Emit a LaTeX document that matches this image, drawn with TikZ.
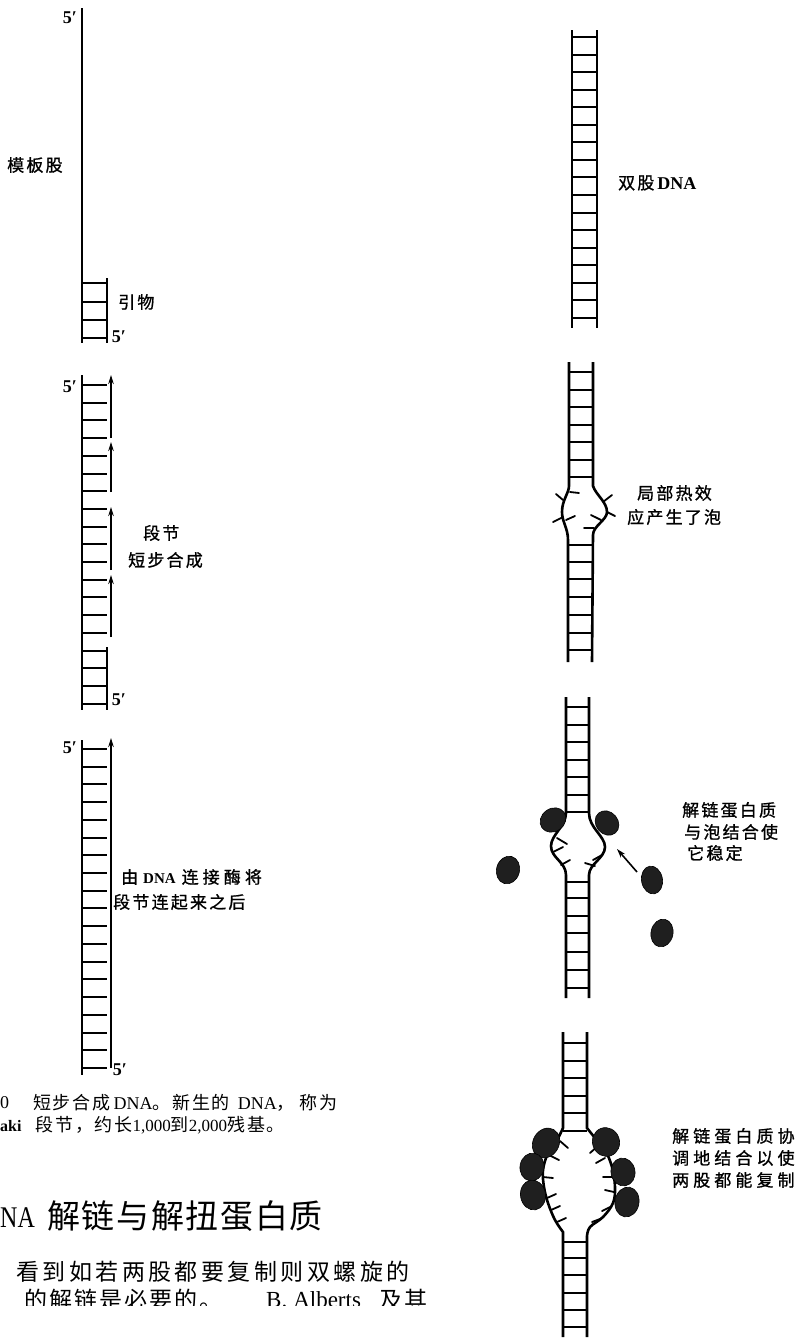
\documentclass[tikz,border=0pt]{standalone}
\usepackage{fontspec}
\setmainfont{Liberation Serif}
\newfontfamily\narrowserif[FakeStretch=0.8]{Liberation Serif}
\newfontfamily\zhlab[LetterSpace=13,FakeBold=1]{Noto Sans CJK SC}
\newfontfamily\zhwide[LetterSpace=24,FakeBold=1]{Noto Sans CJK SC}
\newfontfamily\zhcap[LetterSpace=10]{Noto Sans CJK SC}
\newfontfamily\zhhead[LetterSpace=5]{Noto Sans CJK SC}
\newfontfamily\zhbody[LetterSpace=15]{Noto Sans CJK SC}
\newfontfamily\zhbodyb[LetterSpace=9]{Noto Sans CJK SC}
\usetikzlibrary{arrows.meta,shapes.geometric}
\newcommand\setfs[1]{\fontsize{#1}{#1}\selectfont}
\begin{document}
\begin{tikzpicture}[x=1pt,y=-1pt,
  strand/.style={line width=2.6pt},
  rung/.style={line width=2pt},
  base/.style={line width=1.8pt, line cap=round},
  newstrand/.style={line width=1.6pt, -{Stealth[length=9pt,width=5.5pt]}},
  protein/.style={ellipse, fill=black!88, draw=black, line width=0.6pt, inner sep=0pt},
  lab/.style={inner sep=0pt, anchor=west, font=\zhlab\setfs{17}},
  labw/.style={inner sep=0pt, anchor=west, font=\zhwide\setfs{17}},
  captxt/.style={inner sep=0pt, anchor=west, font=\setfs{18}},
  bodytxt/.style={inner sep=0pt, anchor=west, font=\setfs{23}},
  prime/.style={inner sep=0pt, font=\bfseries\setfs{18}}]
\useasboundingbox (0,0) rectangle (801,1342);

% ---------- left column: template strand with primer ----------
\draw[strand] (82,8) -- (82,343);
\draw[strand] (107,278) -- (107,343);
\foreach \y in {283,302,320,338} \draw[rung] (82,\y) -- (107,\y);
\node[prime] (p1t) at (70,18) {5′};
\node[prime] (p1b) at (119,337) {5′};
\node[lab] (tmpl) at (7,165) {模板股};
\node[lab] (prim) at (118,302) {引物};

% ---------- discontinuous synthesis ----------
\draw[strand] (82,375) -- (82,710);
\foreach \k in {0,...,18} \draw[rung] (82,{385+17.7*\k}) -- (107,{385+17.7*\k});
\draw[newstrand] (111,438) -- (111,375);
\draw[newstrand] (111,492) -- (111,442);
\draw[newstrand] (111,570) -- (111,507);
\draw[newstrand] (111,637) -- (111,575);
\draw[strand] (107,647) -- (107,710);
\node[prime] (p2t) at (70,387) {5′};
\node[prime] (p2b) at (119,700) {5′};
\node[lab] (seg) at (143,533) {段节};
\node[lab] (short) at (128,560) {短步合成};

% ---------- after ligation ----------
\draw[strand] (82,740) -- (82,1075);
\foreach \k in {0,...,18} \draw[rung] (82,{749+17.72*\k}) -- (107,{749+17.72*\k});
\draw[newstrand] (111,1068) -- (111,738);
\node[prime] (p3t) at (70,748) {5′};
\node[prime] (p3b) at (120,1070) {5′};
\node[lab] (lig1) at (121,877) {由\hspace{5pt}{\rmfamily\bfseries\setfs{15}DNA}\hspace{6pt}{\zhwide 连接酶将}};
\node[lab] (lig2) at (113,902) {段节连起来之后};

% ---------- caption and text ----------
\node[captxt] (cap0) at (0,1103) {0};
\node[captxt] (cap1) at (33,1103) {{\zhcap 短步合成}\hspace{3pt}DNA{\zhcap 。新生的}\hspace{8pt}DNA{\zhcap ，}\hspace{5pt}{\zhcap 称为}};
\node[captxt] (cap2) at (0,1125) {{\bfseries\setfs{16}aki}\hspace{14pt}{\zhcap 段节，约长}{\setfs{17}1,000}{\zhcap 到}{\setfs{17}2,000}{\zhcap 残基。}};
\node[inner sep=0pt, anchor=base west, font=\narrowserif\setfs{30}] (headA) at (0,1227) {NA};
\node[inner sep=0pt, anchor=west, font=\zhhead\setfs{33}] (headB) at (47,1216) {解链与解扭蛋白质};
\node[bodytxt] (body1) at (16,1272) {\zhbody 看到如若两股都要复制则双螺旋的};
\begin{scope}
  \clip (0,1280) rectangle (801,1305);
  \node[bodytxt] (body2a) at (24,1300) {\zhbodyb 的解链是必要的。};
  \node[bodytxt] (body2b) at (266,1300) {B.\hspace{6pt}Alberts};
  \node[bodytxt] (body2c) at (379,1300) {\zhbodyb 及其};
\end{scope}

% ---------- right column: intact double strand ----------
\draw[strand] (572,30) -- (572,328);
\draw[strand] (597,30) -- (597,328);
\foreach \k in {0,...,16} \draw[rung] (572,{37+17.56*\k}) -- (597,{37+17.56*\k});
\node[lab] (ds) at (618,183) {双股\hspace{3pt}{\rmfamily\bfseries\setfs{18}DNA}};

% ---------- thermal bubble ----------
\draw[strand] (569,362) -- (569,486) .. controls (569,493) and (562,500) .. (562,512)
  .. controls (562,522) and (568,528) .. (568,540) -- (568,662);
\draw[strand] (593,362) -- (593,486) .. controls (596,495) and (607,502) .. (607,512)
  .. controls (607,520) and (593,526) .. (593,535) -- (592,662);
\foreach \k in {0,...,6} \draw[rung] (569,{372+17.5*\k}) -- (593,{372+17.5*\k});
\foreach \y in {545,562,579,597,615,633,650} \draw[rung] (568,\y) -- (592,\y);
\foreach \a/\b/\c/\d in {570/492/579/493, 563/500/556/494, 563/517/553/522, 566/520/575/516,
  603/502/612/495, 607/512/615/516, 601/520/591/515, 594/528/584/528}
  \draw[base] (\a,\b) -- (\c,\d);
\node[lab] (heat1) at (637,493) {局部热效};
\node[lab] (heat2) at (627,517) {应产生了泡};

% ---------- bubble stabilised by binding proteins ----------
\draw[strand] (566,697) -- (566,813) .. controls (566,826) and (551,835) .. (551,846)
  .. controls (551,858) and (566,862) .. (566,875) -- (566,998);
\draw[strand] (589,697) -- (589,813) .. controls (589,828) and (605,836) .. (605,847)
  .. controls (605,858) and (589,864) .. (589,875) -- (589,998);
\foreach \k in {0,...,6} \draw[rung] (566,{707+17.5*\k}) -- (589,{707+17.5*\k});
\foreach \y in {882,898,916,933,952,970,988} \draw[rung] (566,\y) -- (589,\y);
\foreach \a/\b/\c/\d in {557/838/567/844, 553/852/563/847, 561/865/570/860,
  602/855/593/860, 595/866/585/863}
  \draw[base] (\a,\b) -- (\c,\d);
\node[protein, minimum width=27pt, minimum height=23pt, rotate=35] (c1) at (553,820) {};
\node[protein, minimum width=26pt, minimum height=22pt, rotate=-50] (c2) at (607,823) {};
\node[protein, minimum width=23pt, minimum height=28pt, rotate=-15] (c3) at (508,870) {};
\node[protein, minimum width=21pt, minimum height=28pt, rotate=10] (c4) at (652,880) {};
\node[protein, minimum width=22pt, minimum height=28pt, rotate=-12] (c5) at (662,933) {};
\coordinate (arrT) at (637,872);
\coordinate (arrH) at (617,849);
\draw[newstrand] (arrT) -- (arrH);
\node[lab] (ssb1) at (682,810) {解链蛋白质};
\node[lab] (ssb2) at (684,832) {与泡结合使};
\node[lab] (ssb3) at (687,853) {它稳定};

% ---------- cooperative binding on both strands ----------
\draw[strand] (563,1032) -- plot[smooth, tension=0.6] coordinates {(563,1128) (557,1140) (548,1153) (543,1170)
  (544,1187) (548,1203) (555,1220) (563,1232)} -- (563,1337);
\draw[strand] (587,1032) -- plot[smooth, tension=0.6] coordinates {(587,1128) (595,1138) (605,1150) (612,1167)
  (615,1187) (613,1203) (603,1217) (590,1227) (587,1236)} -- (587,1337);
\foreach \k in {0,...,5} \draw[rung] (563,{1043+17.6*\k}) -- (587,{1043+17.6*\k});
\foreach \y in {1242,1258,1275,1293,1310,1327} \draw[rung] (563,\y) -- (587,\y);
\foreach \a/\b/\c/\d in {560/1141/568/1148, 549/1155/559/1160, 543/1177/553/1178,
  547/1198/556/1194, 551/1210/560/1206, 557/1222/566/1218,
  599/1145/590/1153, 605/1158/596/1163, 612/1177/603/1177, 614/1192/605/1190,
  610/1207/602/1211, 600/1219/592/1222}
  \draw[base] (\a,\b) -- (\c,\d);
\node[protein, minimum width=26pt, minimum height=31pt, rotate=-30] (d1) at (546,1143) {};
\node[protein, minimum width=24pt, minimum height=28pt, rotate=-10] (d2) at (532,1167) {};
\node[protein, minimum width=25pt, minimum height=30pt, rotate=10] (d3) at (533,1195) {};
\node[protein, minimum width=27pt, minimum height=29pt, rotate=20] (d4) at (606,1142) {};
\node[protein, minimum width=24pt, minimum height=28pt, rotate=10] (d5) at (623,1172) {};
\node[protein, minimum width=24pt, minimum height=30pt, rotate=-10] (d6) at (627,1202) {};
\node[labw] (coop1) at (672,1136) {解链蛋白质协};
\node[labw] (coop2) at (672,1158) {调地结合以使};
\node[labw] (coop3) at (672,1180) {两股都能复制};
\end{tikzpicture}
\end{document}
